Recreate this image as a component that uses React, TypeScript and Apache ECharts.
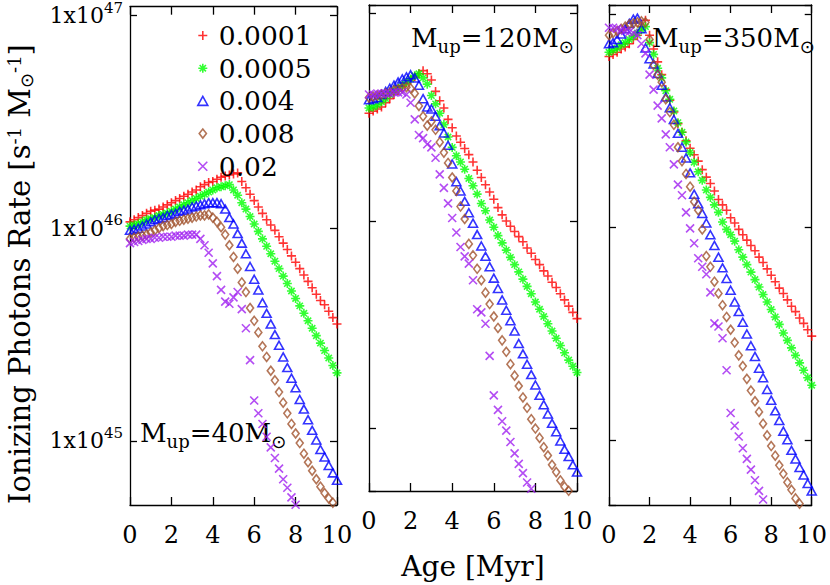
import React, { useEffect, useRef } from 'react';
import * as echarts from 'echarts';

// Age grid (Myr)
const AGES = [0, 0.2, 0.4, 0.6, 0.8, 1.0, 1.2, 1.4, 1.6, 1.8, 2.0, 2.2, 2.4, 2.6, 2.8, 3.0, 3.2, 3.4, 3.6, 3.8,
  4.0, 4.2, 4.4, 4.6, 4.8, 5.0, 5.2, 5.4, 5.6, 5.8, 6.0, 6.2, 6.4, 6.6, 6.8, 7.0, 7.2, 7.4, 7.6, 7.8,
  8.0, 8.2, 8.4, 8.6, 8.8, 9.0, 9.2, 9.4, 9.6, 9.8, 10.0];

const METALLICITIES = ['0.0001', '0.0005', '0.004', '0.008', '0.02'];
const PANEL_LABELS = ['40', '120', '350'];
const Y_TICK_EXPONENTS = [45, 46, 47];

// log10 of ionizing photon rate [s^-1 Msun^-1], one value per age
// Mup = 40 Msun
const M40_Z0001 = [46.03, 46.04, 46.05, 46.06, 46.07, 46.08, 46.085, 46.09, 46.10, 46.11,
  46.12, 46.13, 46.14, 46.15, 46.16, 46.17, 46.18, 46.195, 46.205, 46.215,
  46.22, 46.23, 46.24, 46.245, 46.25, 46.255, 46.26, 46.22, 46.19, 46.16,
  46.13, 46.10, 46.07, 46.04, 46.015, 45.99, 45.96, 45.93, 45.90, 45.87,
  45.84, 45.81, 45.78, 45.75, 45.72, 45.69, 45.66, 45.64, 45.61, 45.58, 45.55];
const M40_Z0005 = [46.01, 46.015, 46.02, 46.03, 46.04, 46.045, 46.05, 46.06, 46.065, 46.07,
  46.08, 46.09, 46.10, 46.11, 46.12, 46.13, 46.14, 46.15, 46.16, 46.17,
  46.18, 46.19, 46.195, 46.20, 46.205, 46.18, 46.155, 46.12, 46.09, 46.055,
  46.02, 45.985, 45.95, 45.915, 45.88, 45.845, 45.81, 45.775, 45.74, 45.705,
  45.67, 45.635, 45.60, 45.565, 45.53, 45.495, 45.46, 45.425, 45.39, 45.355, 45.32];
const M40_Z004 = [45.99, 45.995, 46.00, 46.01, 46.02, 46.03, 46.04, 46.045, 46.05, 46.06,
  46.065, 46.07, 46.08, 46.085, 46.09, 46.10, 46.105, 46.11, 46.115, 46.12,
  46.12, 46.12, 46.115, 46.09, 46.05, 46.02, 45.975, 45.93, 45.88, 45.82,
  45.76, 45.71, 45.65, 45.60, 45.55, 45.50, 45.45, 45.395, 45.345, 45.295,
  45.25, 45.195, 45.15, 45.10, 45.05, 45.005, 44.96, 44.925, 44.885, 44.85, 44.815];
const M40_Z008 = [45.95, 45.955, 45.96, 45.965, 45.97, 45.98, 45.99, 46.00, 46.01, 46.015,
  46.02, 46.03, 46.035, 46.04, 46.045, 46.05, 46.055, 46.06, 46.06, 46.065,
  46.05, 46.03, 46.005, 45.97, 45.92, 45.865, 45.81, 45.745, 45.70, 45.625,
  45.565, 45.51, 45.445, 45.395, 45.33, 45.285, 45.23, 45.18, 45.13, 45.08,
  45.035, 44.99, 44.94, 44.90, 44.86, 44.82, 44.785, 44.755, 44.73, 44.71, 44.69];
const M40_Z02 = [45.93, 45.935, 45.94, 45.945, 45.95, 45.95, 45.955, 45.955, 45.96, 45.96,
  45.96, 45.965, 45.965, 45.965, 45.97, 45.97, 45.97, 45.95, 45.92, 45.885,
  45.835, 45.775, 45.71, 45.655, 45.645, 45.675, 45.70, 45.62, 45.53, 45.38,
  45.19, 45.13, 45.08, 45.02, 44.97, 44.92, 44.87, 44.82, 44.78, 44.735, 44.70];

// Mup = 120 Msun
const M120_Z0001 = [46.52, 46.53, 46.54, 46.55, 46.57, 46.59, 46.61, 46.63, 46.65, 46.665,
  46.68, 46.695, 46.71, 46.725, 46.71, 46.68, 46.625, 46.58, 46.545, 46.49,
  46.45, 46.41, 46.38, 46.35, 46.32, 46.285, 46.245, 46.21, 46.175, 46.14,
  46.105, 46.065, 46.03, 46.00, 45.975, 45.95, 45.925, 45.90, 45.87, 45.845,
  45.815, 45.79, 45.76, 45.735, 45.705, 45.68, 45.65, 45.62, 45.59, 45.56, 45.53];
const M120_Z0005 = [46.545, 46.55, 46.56, 46.575, 46.59, 46.61, 46.625, 46.64, 46.655, 46.67,
  46.685, 46.70, 46.71, 46.69, 46.66, 46.605, 46.565, 46.52, 46.465, 46.405,
  46.355, 46.315, 46.285, 46.25, 46.205, 46.17, 46.13, 46.085, 46.05, 46.005,
  45.97, 45.93, 45.895, 45.86, 45.825, 45.79, 45.755, 45.72, 45.685, 45.65,
  45.61, 45.575, 45.54, 45.505, 45.47, 45.435, 45.40, 45.365, 45.33, 45.30, 45.27];
const M120_Z004 = [46.585, 46.59, 46.595, 46.61, 46.625, 46.64, 46.655, 46.67, 46.685, 46.695,
  46.705, 46.69, 46.655, 46.59, 46.55, 46.54, 46.505, 46.46, 46.425, 46.365,
  46.275, 46.19, 46.145, 46.095, 46.04, 45.99, 45.935, 45.88, 45.83, 45.78,
  45.725, 45.675, 45.62, 45.57, 45.52, 45.47, 45.41, 45.36, 45.31, 45.26,
  45.21, 45.16, 45.115, 45.07, 45.025, 44.985, 44.94, 44.90, 44.865, 44.825, 44.79];
const M120_Z008 = [46.595, 46.60, 46.605, 46.61, 46.615, 46.62, 46.63, 46.635, 46.64, 46.645,
  46.64, 46.615, 46.555, 46.505, 46.46, 46.48, 46.44, 46.38, 46.33, 46.28,
  46.21, 46.145, 46.07, 46.01, 45.89, 45.835, 45.77, 45.715, 45.655, 45.60,
  45.54, 45.485, 45.425, 45.37, 45.31, 45.255, 45.205, 45.15, 45.10, 45.045,
  45.00, 44.955, 44.91, 44.87, 44.825, 44.79, 44.75, 44.72, 44.70];
const M120_Z02 = [46.61, 46.61, 46.615, 46.615, 46.615, 46.615, 46.62, 46.62, 46.62, 46.61,
  46.57, 46.49, 46.415, 46.40, 46.37, 46.355, 46.305, 46.225, 46.16, 46.085,
  46.015, 45.945, 45.875, 45.83, 45.795, 45.715, 45.575, 45.56, 45.505, 45.35,
  45.16, 45.09, 45.035, 44.99, 44.935, 44.88, 44.83, 44.785, 44.74, 44.71];

// Mup = 350 Msun
const M350_Z0001 = [46.80, 46.81, 46.82, 46.835, 46.845, 46.86, 46.88, 46.90, 46.94, 46.97,
  46.90, 46.835, 46.775, 46.715, 46.645, 46.595, 46.54, 46.485, 46.445, 46.405,
  46.37, 46.34, 46.31, 46.27, 46.235, 46.205, 46.17, 46.13, 46.105, 46.08,
  46.045, 46.02, 45.99, 45.965, 45.94, 45.915, 45.89, 45.86, 45.835, 45.805,
  45.775, 45.745, 45.715, 45.69, 45.66, 45.63, 45.605, 45.575, 45.55, 45.52, 45.49];
const M350_Z0005 = [46.82, 46.83, 46.84, 46.855, 46.865, 46.88, 46.895, 46.91, 46.925, 46.94,
  46.865, 46.81, 46.745, 46.70, 46.64, 46.60, 46.545, 46.49, 46.445, 46.40,
  46.35, 46.305, 46.26, 46.22, 46.175, 46.14, 46.105, 46.07, 46.025, 45.99,
  45.965, 45.935, 45.895, 45.86, 45.825, 45.79, 45.755, 45.72, 45.685, 45.65,
  45.615, 45.58, 45.545, 45.505, 45.47, 45.435, 45.40, 45.365, 45.33, 45.295, 45.26];
const M350_Z004 = [46.86, 46.865, 46.88, 46.905, 46.93, 46.955, 46.975, 46.98, 46.93, 46.84,
  46.79, 46.765, 46.72, 46.665, 46.61, 46.56, 46.505, 46.44, 46.375, 46.325,
  46.255, 46.155, 46.11, 46.065, 46.02, 45.965, 45.915, 45.86, 45.81, 45.76,
  45.705, 45.65, 45.605, 45.555, 45.50, 45.445, 45.395, 45.34, 45.295, 45.24,
  45.19, 45.14, 45.095, 45.045, 45.005, 44.955, 44.915, 44.875, 44.84, 44.80, 44.765];
const M350_Z008 = [46.90, 46.91, 46.92, 46.93, 46.94, 46.95, 46.955, 46.96, 46.965, 46.96,
  46.88, 46.76, 46.715, 46.68, 46.60, 46.54, 46.48, 46.375, 46.31, 46.25,
  46.19, 46.12, 46.08, 45.99, 45.865, 45.815, 45.745, 45.69, 45.635, 45.58,
  45.52, 45.46, 45.40, 45.35, 45.29, 45.235, 45.185, 45.135, 45.08, 45.025,
  44.975, 44.93, 44.885, 44.845, 44.805, 44.77, 44.73, 44.705];
const M350_Z02 = [46.935, 46.935, 46.93, 46.925, 46.92, 46.915, 46.91, 46.90, 46.86, 46.815,
  46.715, 46.645, 46.57, 46.51, 46.435, 46.375, 46.295, 46.20, 46.15, 46.07,
  45.995, 45.925, 45.855, 45.815, 45.78, 45.695, 45.55, 45.535, 45.48, 45.33,
  45.13, 45.07, 45.02, 44.965, 44.915, 44.865, 44.815, 44.765, 44.725];

const PANELS = [
  [M40_Z0001, M40_Z0005, M40_Z004, M40_Z008, M40_Z02],
  [M120_Z0001, M120_Z0005, M120_Z004, M120_Z008, M120_Z02],
  [M350_Z0001, M350_Z0005, M350_Z004, M350_Z008, M350_Z02],
];

const FONT = '"DejaVu Serif", "Liberation Serif", serif';
const SUN_FONT = '"DejaVu Sans", sans-serif';
const COLORS = ['#ff0000', '#00ff00', '#0000ff', '#a0522d', '#a020f0'];
const PLUS = 'path://M0,5L10,5M5,0L5,10';
const STAR = 'path://M0,5L10,5M5,0L5,10M1.5,1.5L8.5,8.5M8.5,1.5L1.5,8.5';
const CROSS = 'path://M0,0L10,10M10,0L0,10';
const TRI = 'path://M5,0L10,9L0,9Z';
const DIA = 'path://M4,0L8,5L4,10L0,5Z';
const SYMBOLS = [PLUS, STAR, 'triangle', 'diamond', CROSS];
const LEGEND_ICONS = [PLUS, STAR, TRI, DIA, CROSS];
const SIZES: any[] = [9, 9, [9, 8], [7, 9], 8];

const GRIDS = [
  { left: 130, top: 5, width: 207, height: 500 },
  { left: 369, top: 5, width: 208, height: 500 },
  { left: 609, top: 5, width: 207, height: 500 },
];

function buildOption() {
  const axisLine = { show: true, onZero: false, lineStyle: { color: '#000', width: 1.3 } };
  const xAxis: any[] = [];
  const yAxis: any[] = [];
  GRIDS.forEach((_, i) => {
    xAxis.push({
      gridIndex: i, type: 'value', min: 0, max: 10, interval: 2, position: 'bottom',
      axisLine, axisTick: { inside: true, length: 8, lineStyle: { color: '#000', width: 1.3 } },
      axisLabel: { fontSize: 24, fontFamily: FONT, color: '#000', margin: 18 },
      splitLine: { show: false },
      name: i === 1 ? 'Age [Myr]' : '', nameLocation: 'middle', nameGap: 61,
      nameTextStyle: { fontSize: 28, fontFamily: FONT, color: '#000' },
    });
    xAxis.push({
      gridIndex: i, type: 'value', min: 0, max: 10, interval: 2, position: 'top',
      axisLine, axisTick: { inside: true, length: 8, lineStyle: { color: '#000', width: 1.3 } },
      axisLabel: { show: false }, splitLine: { show: false },
    });
    yAxis.push({
      gridIndex: i, type: 'log', logBase: 10, min: 5e44, max: 1.1e47, position: 'left',
      axisLine, axisTick: { inside: true, length: 7, lineStyle: { color: '#000', width: 1.3 } },
      axisLabel: {
        show: i === 0, margin: 7, showMinLabel: false, showMaxLabel: false,
        formatter: (v: number) => {
          const e = Math.round(Math.log10(v));
          return Y_TICK_EXPONENTS.indexOf(e) >= 0 ? `{a|1x10}{sup|${e}}` : '';
        },
        rich: {
          a: { fontSize: 22, fontFamily: FONT, color: '#000' },
          sup: { fontSize: 15, fontFamily: FONT, color: '#000', padding: [0, 0, 16, 0] },
        },
      },
      splitLine: { show: false },
    });
    yAxis.push({
      gridIndex: i, type: 'log', logBase: 10, min: 5e44, max: 1.1e47, position: 'right',
      axisLine, axisTick: { inside: true, length: 7, lineStyle: { color: '#000', width: 1.3 } },
      axisLabel: { show: false }, splitLine: { show: false },
    });
  });

  const series: any[] = [];
  PANELS.forEach((sets, p) => {
    sets.forEach((vals, k) => {
      series.push({
        type: 'scatter', name: METALLICITIES[k], xAxisIndex: p * 2, yAxisIndex: p * 2,
        symbol: SYMBOLS[k], symbolSize: SIZES[k], clip: true, silent: true,
        emphasis: { disabled: true },
        itemStyle: { color: 'transparent', borderColor: COLORS[k], borderWidth: 1.6 },
        data: vals.map((lg, i) => [AGES[i], Math.pow(10, lg)]),
      });
    });
  });

  const mupRich = {
    sub: { fontSize: 18, fontFamily: FONT, fill: '#000', padding: [16, 0, 0, 0] },
    sun: { fontSize: 18, fontFamily: SUN_FONT, fill: '#000', padding: [16, 0, 0, 0] },
  };
  const mupPos = [{ x: 140, y: 433 }, { x: 411, y: 38 }, { x: 652, y: 38 }];

  return {
    animation: false,
    backgroundColor: '#fff',
    textStyle: { fontFamily: FONT },
    grid: GRIDS,
    xAxis, yAxis, series,
    legend: {
      orient: 'vertical', left: 192, top: 17, itemWidth: 22, itemHeight: 9, itemGap: 5.7,
      selectedMode: false,
      textStyle: { fontFamily: FONT, fontSize: 26.5, color: '#000', lineHeight: 25 },
      data: METALLICITIES.map((n, i) => ({
        name: n, icon: LEGEND_ICONS[i],
        itemStyle: { color: 'transparent', borderColor: COLORS[i], borderWidth: 1.6 },
      })),
    },
    graphic: [
      {
        type: 'text', x: 20, y: 274, rotation: Math.PI / 2,
        style: {
          text: 'Ionizing Photons Rate [s{sup|-1} M{sun|⊙}{sup|-1}]',
          fontSize: 29, fontFamily: FONT, fill: '#000', align: 'center', verticalAlign: 'middle',
          rich: {
            sup: { fontSize: 18, fontFamily: FONT, fill: '#000', padding: [0, 0, 12, 0] },
            sun: { fontSize: 18, fontFamily: SUN_FONT, fill: '#000', padding: [12, 0, 0, 0] },
          },
        },
      },
      ...PANEL_LABELS.map((m, i) => ({
        type: 'text', x: mupPos[i].x, y: mupPos[i].y,
        style: {
          text: `M{sub|up}=${m}M{sun|⊙}`,
          fontSize: 26, fontFamily: FONT, fill: '#000', align: 'left', verticalAlign: 'middle',
          rich: mupRich,
        },
      })),
    ],
  };
}

export default function App() {
  const ref = useRef<HTMLDivElement>(null);
  useEffect(() => {
    const chart = echarts.init(ref.current!, null, { renderer: 'svg' });
    chart.setOption(buildOption() as any);
    return () => chart.dispose();
  }, []);
  return (
    <div
      ref={ref}
      style={{ position: 'absolute', left: 0, top: 0, width: 830, height: 585, background: '#fff' }}
    />
  );
}
